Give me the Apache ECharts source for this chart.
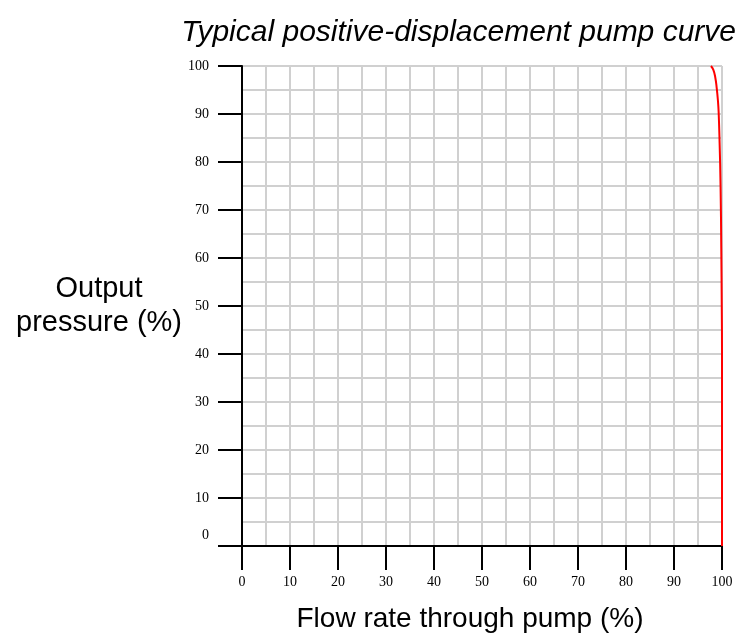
<!DOCTYPE html>
<html>
<head>
<meta charset="utf-8">
<script src="https://cdn.jsdelivr.net/npm/echarts@6/dist/echarts.min.js"></script>
<style>
  html, body { margin: 0; padding: 0; background: #fff; }
  #chart { width: 738px; height: 639px; }
</style>
</head>
<body>
<div id="chart"></div>
<script>
// curve: flow (%) vs output pressure (%)
const flowValues = [97.7, 98.2, 98.6, 98.9, 99.15, 99.3, 99.5, 99.7, 99.85, 99.95, 100, 100];
const pressureValues = [100, 99.2, 97.6, 95.4, 92.8, 90.4, 84, 75, 62, 50, 40, 0];
const axisMin = 0;
const axisMax = 100;
const majorStep = 10;

const curve = flowValues.map((f, i) => [f, pressureValues[i]]);

const gridGray = '#d0d0d0';
const tickFont = 'Liberation Serif';
const sansFont = 'Liberation Sans';

const myChart = echarts.init(document.getElementById('chart'));

const option = {
  animation: false,
  title: {
    text: 'Typical positive-displacement pump curve',
    right: 2,
    top: 18,
    padding: 0,
    textStyle: {
      fontFamily: sansFont,
      fontStyle: 'italic',
      fontWeight: 'normal',
      fontSize: 30,
      color: '#000'
    }
  },
  grid: {
    left: 242,
    right: 16,
    top: 66,
    bottom: 93
  },
  xAxis: {
    type: 'value',
    min: axisMin,
    max: axisMax,
    interval: majorStep,
    name: 'Flow rate through pump (%)',
    nameLocation: 'middle',
    nameGap: 59,
    nameTextStyle: { fontFamily: sansFont, fontSize: 28, color: '#000', padding: [0, 24, 0, 0] },
    axisLine: { show: true, onZero: false, lineStyle: { color: '#000', width: 2 } },
    axisTick: { show: true, inside: false, length: 24, lineStyle: { color: '#000', width: 2 } },
    axisLabel: { margin: 29, fontFamily: tickFont, fontSize: 14, color: '#000' },
    splitLine: { show: true, lineStyle: { color: gridGray, width: 2 } },
    minorTick: { show: false, splitNumber: 2 },
    minorSplitLine: { show: true, lineStyle: { color: gridGray, width: 2 } }
  },
  yAxis: {
    type: 'value',
    min: axisMin,
    max: axisMax,
    interval: majorStep,
    name: 'Output\npressure (%)',
    nameLocation: 'middle',
    nameRotate: 0,
    nameGap: 143,
    nameTextStyle: {
      fontFamily: sansFont,
      fontSize: 29,
      color: '#000',
      align: 'center',
      lineHeight: 34,
      padding: [0, 0, 4, 0]
    },
    axisLine: { show: true, onZero: false, lineStyle: { color: '#000', width: 2 } },
    axisTick: { show: true, inside: false, length: 24, lineStyle: { color: '#000', width: 2 } },
    axisLabel: {
      margin: 33,
      fontFamily: tickFont,
      fontSize: 14,
      color: '#000',
      formatter: v => (v === 0 ? '{z|0}' : String(v)),
      rich: {
        z: { fontFamily: tickFont, fontSize: 14, color: '#000', padding: [0, 0, 22, 0] }
      }
    },
    splitLine: { show: true, lineStyle: { color: gridGray, width: 2 } },
    minorTick: { show: false, splitNumber: 2 },
    minorSplitLine: { show: true, lineStyle: { color: gridGray, width: 2 } }
  },
  series: [{
    type: 'line',
    data: curve,
    smooth: 0.5,
    showSymbol: false,
    lineStyle: { color: '#ff0000', width: 2 },
    z: 5
  }]
};

option && myChart.setOption(option);
</script>
</body>
</html>
